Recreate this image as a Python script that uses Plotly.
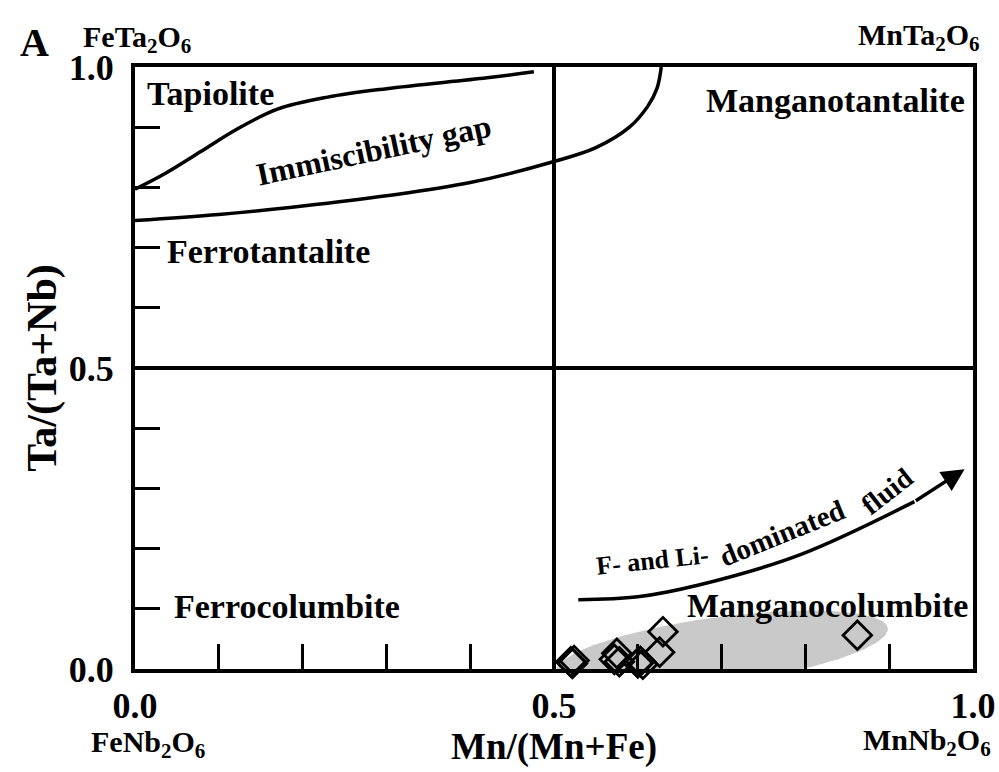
import numpy as np
import plotly.graph_objects as go

# ---- data ----
upper_x = [0.0, 0.037, 0.079, 0.122, 0.17, 0.23, 0.30, 0.42, 0.476]
upper_y = [0.797, 0.824, 0.860, 0.897, 0.930, 0.950, 0.964, 0.982, 0.992]

lower_x = [0.0, 0.1, 0.2, 0.3, 0.4, 0.5, 0.55, 0.59, 0.612, 0.623, 0.628]
lower_y = [0.745, 0.755, 0.769, 0.786, 0.808, 0.843, 0.866, 0.9, 0.935, 0.965, 1.0]

arrow_x = [0.529, 0.60, 0.674, 0.794, 0.93]
arrow_y = [0.115, 0.12, 0.14, 0.19, 0.278]
arrow_tip = (0.99, 0.332)

sample_x = [0.520, 0.522, 0.524, 0.572, 0.575, 0.578, 0.600, 0.603, 0.606, 0.626, 0.630, 0.862]
sample_y = [0.012, 0.009, 0.014, 0.016, 0.026, 0.012, 0.010, 0.013, 0.008, 0.028, 0.062, 0.056]

tick_vals = [0.0, 0.5, 1.0]
tick_text = ["0.0", "0.5", "1.0"]
minor_step = 0.1

# field (ellipse) around samples: centre in data units, semi-axes in plot fractions
ell_cx, ell_cy = 0.7005, 0.0316
ell_a_frac, ell_b_frac, ell_angle_deg = 0.1995, 0.055, 7.5

FONT = "Liberation Serif"
PW, PH = 838.0, 602.0

fig = go.Figure()

# grey field ellipse (built in pixel space for correct aspect)
t = np.linspace(0, 2 * np.pi, 200)
a_px = ell_a_frac * PW
b_px = ell_b_frac * PH
th = np.deg2rad(ell_angle_deg)
ux = a_px * np.cos(t)
vy = b_px * np.sin(t)
dx = ux * np.cos(th) - vy * np.sin(th)
dy = ux * np.sin(th) + vy * np.cos(th)
fig.add_trace(go.Scatter(
    x=ell_cx + dx / PW, y=ell_cy + dy / PH, mode="lines", fill="toself",
    fillcolor="#c9c9c9", line=dict(width=0, color="#c9c9c9"), hoverinfo="skip"))

# boundary curves
fig.add_trace(go.Scatter(x=upper_x, y=upper_y, mode="lines",
                         line=dict(color="black", width=3.5, shape="spline", smoothing=1.0)))
fig.add_trace(go.Scatter(x=lower_x, y=lower_y, mode="lines",
                         line=dict(color="black", width=3.5, shape="spline")))
fig.add_trace(go.Scatter(x=arrow_x, y=arrow_y, mode="lines",
                         line=dict(color="black", width=3.5, shape="spline")))

# samples
fig.add_trace(go.Scatter(x=sample_x, y=sample_y, mode="markers", cliponaxis=False,
                         marker=dict(symbol="diamond-open", size=22, color="black",
                                     line=dict(width=2.8, color="black"))))

# mid lines
fig.add_shape(type="line", x0=0.5, x1=0.5, y0=0, y1=1, xref="x", yref="y",
              line=dict(color="black", width=4))
fig.add_shape(type="line", x0=0, x1=1, y0=0.5, y1=0.5, xref="x", yref="y",
              line=dict(color="black", width=4))

# arrowhead
fig.add_annotation(x=arrow_tip[0], y=arrow_tip[1], ax=arrow_x[-1], ay=arrow_y[-1],
                   xref="x", yref="y", axref="x", ayref="y", text="",
                   showarrow=True, arrowhead=2, arrowsize=1.3, arrowwidth=3.5,
                   arrowcolor="black")

bold = dict(family=FONT, color="black", weight="bold")

def lab(text, x, y, size, xanchor="center", angle=0, xref="x", yref="y"):
    fig.add_annotation(x=x, y=y, xref=xref, yref=yref, text=text, showarrow=False,
                       xanchor=xanchor, yanchor="middle", textangle=angle,
                       font=dict(size=size, **bold))

lab("Tapiolite", 0.012, 0.956, 34, "left")
lab("Manganotantalite", 0.993, 0.945, 34, "right")
lab("Ferrotantalite", 0.036, 0.693, 34, "left")
lab("Ferrocolumbite", 0.044, 0.103, 34, "left")
lab("Manganocolumbite", 0.996, 0.106, 34, "right")
lab("Immiscibility gap", 0.285, 0.862, 32, "center", -12)
lab("F- and Li-", 0.617, 0.180, 26, "center", -6)
lab("dominated", 0.772, 0.226, 29, "center", -22)
lab("fluid", 0.897, 0.295, 28, "center", -38)

# corner compositions
lab("A", -0.1205, 1.0415, 40, "center", 0, "paper", "paper")
lab("FeTa<sub>2</sub>O<sub>6</sub>", 0.0024, 1.047, 30, "center", 0, "paper", "paper")
lab("MnTa<sub>2</sub>O<sub>6</sub>", 1.0107, 1.05, 30, "right", 0, "paper", "paper")
lab("FeNb<sub>2</sub>O<sub>6</sub>", 0.016, -0.124, 30, "center", 0, "paper", "paper")
lab("MnNb<sub>2</sub>O<sub>6</sub>", 1.024, -0.122, 30, "right", 0, "paper", "paper")

axis_common = dict(
    range=[0, 1], showgrid=False, zeroline=False, showline=True, linewidth=4,
    linecolor="black", mirror=True, ticks="inside", ticklen=25, tickwidth=3,
    tickcolor="black", tickmode="array", tickvals=tick_vals, ticktext=tick_text,
    tickfont=dict(size=36, **bold), fixedrange=True, automargin=False,
    minor=dict(ticks="inside", ticklen=25, tickwidth=3, tickcolor="black",
               dtick=minor_step, tick0=0, showgrid=False),
)

fig.update_layout(
    width=999, height=772,
    margin=dict(l=135, r=26, t=67, b=103),
    plot_bgcolor="white", paper_bgcolor="white",
    showlegend=False,
    xaxis=dict(**axis_common, ticklabelstandoff=2,
               title=dict(text="Mn/(Mn+Fe)", font=dict(size=37, **bold), standoff=6)),
    yaxis=dict(**axis_common, ticklabelstandoff=10,
               title=dict(text="Ta/(Ta+Nb)", font=dict(size=42, **bold), standoff=0)),
)

fig.write_html("out.html", config={"displayModeBar": False},
               post_script="document.body.style.margin='0';document.body.style.overflow='hidden';")
